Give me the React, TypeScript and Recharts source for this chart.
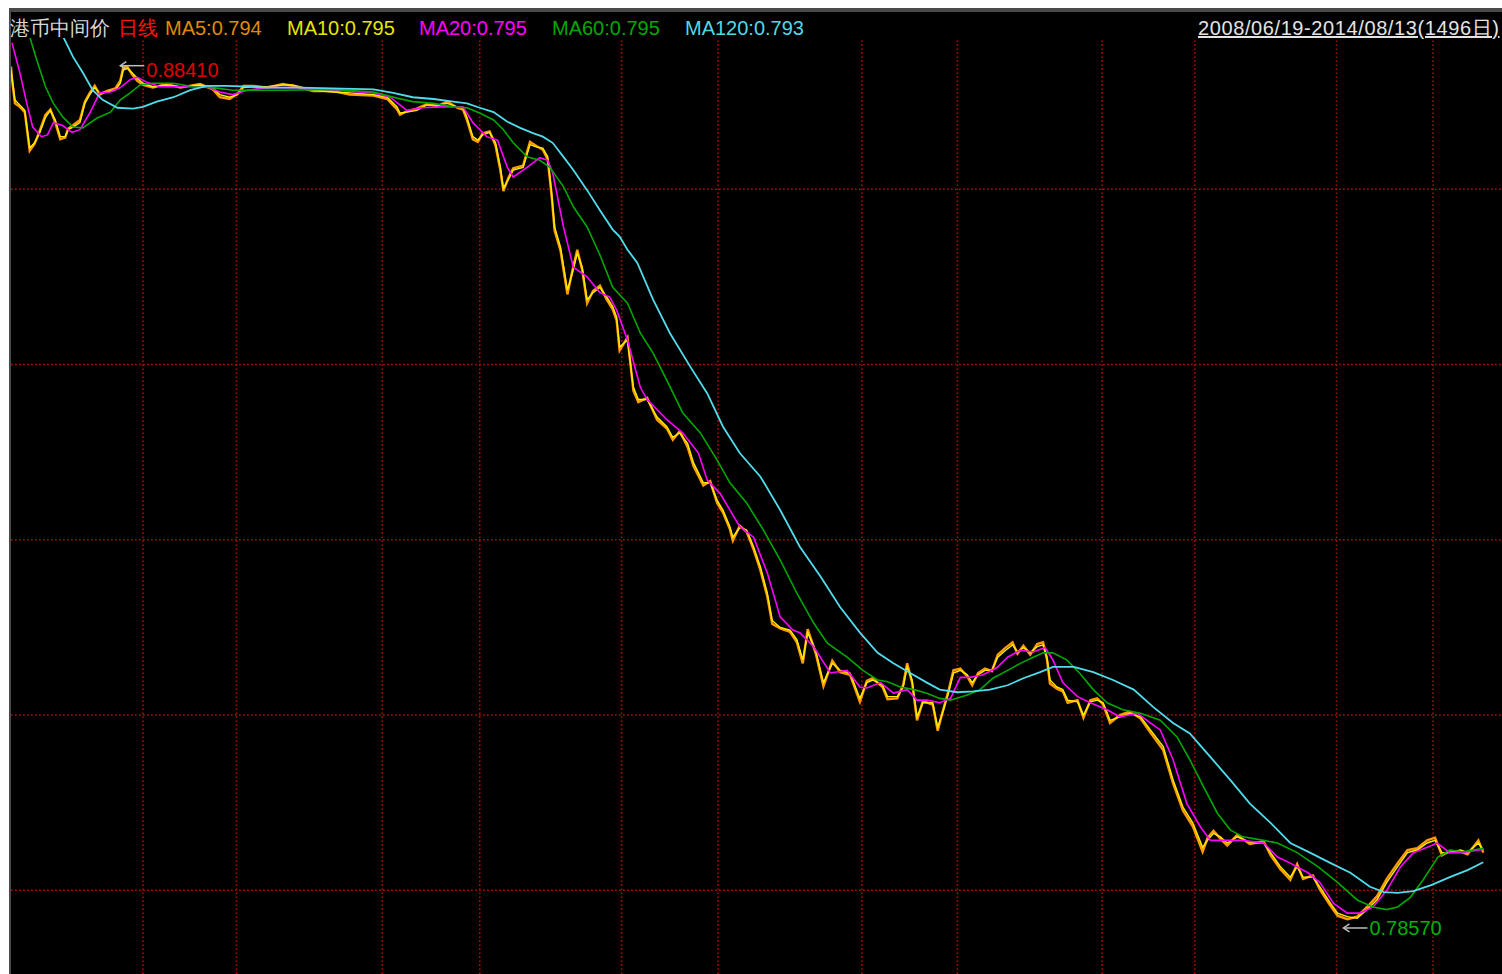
import React from "react";
import { LineChart, Line, XAxis, YAxis, ReferenceLine, ReferenceDot } from "recharts";

// day index (0 = 2008/06/19, 1495 = 2014/08/13), value
const ma5: [number, number][] = [
  [0,0.8840],[1,0.8826],[4,0.8798],[9,0.8794],[14,0.8788],[19,0.8744],[24,0.8752],[29,0.8766],[35,0.8785],[40,0.8791],
  [45,0.8776],[50,0.8757],[55,0.8759],[58,0.8769],[63,0.8773],[70,0.8779],[75,0.8800],[80,0.8810],[85,0.8818],[90,0.8808],
  [97,0.8812],[106,0.8815],[111,0.8824],[114,0.8839],[118,0.8840],[123,0.8831],[128,0.8824],[134,0.8819],[144,0.8816],[158,0.8820],
  [172,0.8816],[192,0.8820],[205,0.8814],[212,0.8805],[222,0.8803],[230,0.8809],[236,0.8818],[246,0.8818],[260,0.8816],[276,0.8820],
  [286,0.8818],[307,0.8812],[327,0.8812],[344,0.8808],[368,0.8807],[382,0.8803],[392,0.8791],[395,0.8785],[402,0.8789],[412,0.8792],
  [422,0.8797],[433,0.8795],[443,0.8800],[453,0.8793],[459,0.8791],[463,0.8779],[469,0.8757],[474,0.8754],[479,0.8764],[486,0.8766],
  [492,0.8750],[497,0.8721],[500,0.8698],[505,0.8713],[510,0.8724],[520,0.8727],[527,0.8754],[534,0.8749],[540,0.8745],[545,0.8734],
  [549,0.8692],[552,0.8653],[558,0.8630],[565,0.8580],[570,0.8607],[575,0.8631],[580,0.8608],[585,0.8570],[591,0.8584],[598,0.8590],
  [605,0.8574],[611,0.8563],[615,0.8550],[618,0.8516],[626,0.8531],[632,0.8470],[637,0.8457],[646,0.8462],[656,0.8437],[666,0.8427],
  [672,0.8414],[679,0.8424],[687,0.8406],[693,0.8384],[703,0.8362],[710,0.8367],[717,0.8342],[723,0.8331],[730,0.8312],[733,0.8299],
  [740,0.8316],[747,0.8309],[754,0.8289],[761,0.8265],[768,0.8235],[773,0.8204],[781,0.8199],[791,0.8195],[798,0.8183],[804,0.8159],
  [809,0.8198],[817,0.8171],[825,0.8133],[834,0.8162],[842,0.8149],[852,0.8146],[862,0.8115],[869,0.8139],[875,0.8142],[885,0.8132],
  [890,0.8118],[900,0.8119],[906,0.8135],[910,0.8159],[915,0.8137],[920,0.8094],[926,0.8116],[936,0.8112],[941,0.8082],[947,0.8108],
  [952,0.8128],[957,0.8151],[964,0.8153],[971,0.8144],[976,0.8134],[982,0.8148],[989,0.8153],[996,0.8150],[1002,0.8169],[1010,0.8177],
  [1017,0.8183],[1022,0.8170],[1028,0.8179],[1035,0.8169],[1042,0.8181],[1048,0.8183],[1052,0.8163],[1055,0.8136],[1062,0.8130],[1068,0.8127],
  [1073,0.8114],[1083,0.8117],[1089,0.8097],[1096,0.8117],[1103,0.8119],[1109,0.8112],[1116,0.8091],[1126,0.8100],[1136,0.8104],[1147,0.8096],
  [1157,0.8080],[1170,0.8060],[1180,0.8022],[1190,0.7991],[1200,0.7973],[1210,0.7944],[1215,0.7960],[1221,0.7968],[1228,0.7959],[1235,0.7951],
  [1245,0.7963],[1258,0.7953],[1272,0.7956],[1279,0.7940],[1289,0.7924],[1299,0.7912],[1306,0.7930],[1312,0.7913],[1322,0.7917],[1329,0.7901],
  [1340,0.7882],[1347,0.7871],[1357,0.7867],[1367,0.7870],[1377,0.7881],[1387,0.7893],[1397,0.7913],[1408,0.7931],[1418,0.7946],[1428,0.7948],
  [1438,0.7957],[1446,0.7960],[1453,0.7940],[1461,0.7945],[1472,0.7944],[1479,0.7941],[1490,0.7957],[1495,0.7943],
];

const ma10: [number, number][] = [
  [0,0.8836],[1,0.8828],[4,0.8802],[9,0.8796],[14,0.8790],[19,0.8747],[24,0.8753],[29,0.8764],[35,0.8782],[40,0.8790],
  [45,0.8779],[50,0.8760],[55,0.8760],[58,0.8768],[63,0.8771],[70,0.8776],[75,0.8798],[80,0.8808],[85,0.8816],[90,0.8810],
  [97,0.8811],[106,0.8813],[111,0.8821],[114,0.8836],[118,0.8838],[123,0.8833],[128,0.8827],[134,0.8821],[144,0.8817],[158,0.8819],
  [172,0.8817],[192,0.8819],[205,0.8816],[212,0.8808],[222,0.8805],[230,0.8808],[236,0.8816],[246,0.8817],[260,0.8817],[276,0.8819],
  [286,0.8819],[307,0.8813],[327,0.8811],[344,0.8810],[368,0.8808],[382,0.8805],[392,0.8794],[395,0.8787],[402,0.8788],[412,0.8790],
  [422,0.8796],[433,0.8796],[443,0.8798],[453,0.8794],[459,0.8793],[463,0.8782],[469,0.8760],[474,0.8756],[479,0.8762],[486,0.8765],
  [492,0.8753],[497,0.8725],[500,0.8701],[505,0.8711],[510,0.8722],[520,0.8725],[527,0.8751],[534,0.8748],[540,0.8747],[545,0.8737],
  [549,0.8696],[552,0.8657],[558,0.8634],[565,0.8585],[570,0.8604],[575,0.8627],[580,0.8611],[585,0.8574],[591,0.8582],[598,0.8588],
  [605,0.8577],[611,0.8566],[615,0.8554],[618,0.8520],[626,0.8528],[632,0.8474],[637,0.8460],[646,0.8460],[656,0.8440],[666,0.8429],
  [672,0.8417],[679,0.8422],[687,0.8410],[693,0.8388],[703,0.8365],[710,0.8365],[717,0.8345],[723,0.8334],[730,0.8315],[733,0.8303],
  [740,0.8314],[747,0.8311],[754,0.8292],[761,0.8269],[768,0.8239],[773,0.8208],[781,0.8200],[791,0.8197],[798,0.8186],[804,0.8163],
  [809,0.8194],[817,0.8174],[825,0.8137],[834,0.8159],[842,0.8151],[852,0.8148],[862,0.8119],[869,0.8137],[875,0.8140],[885,0.8134],
  [890,0.8121],[900,0.8121],[906,0.8132],[910,0.8155],[915,0.8140],[920,0.8098],[926,0.8114],[936,0.8114],[941,0.8086],[947,0.8106],
  [952,0.8125],[957,0.8148],[964,0.8151],[971,0.8146],[976,0.8137],[982,0.8146],[989,0.8151],[996,0.8151],[1002,0.8166],[1010,0.8174],
  [1017,0.8180],[1022,0.8172],[1028,0.8177],[1035,0.8171],[1042,0.8178],[1048,0.8180],[1052,0.8166],[1055,0.8140],[1062,0.8132],[1068,0.8129],
  [1073,0.8117],[1083,0.8115],[1089,0.8100],[1096,0.8115],[1103,0.8117],[1109,0.8114],[1116,0.8094],[1126,0.8098],[1136,0.8102],[1147,0.8098],
  [1157,0.8083],[1170,0.8064],[1180,0.8026],[1190,0.7995],[1200,0.7977],[1210,0.7949],[1215,0.7957],[1221,0.7965],[1228,0.7961],[1235,0.7954],
  [1245,0.7961],[1258,0.7955],[1272,0.7954],[1279,0.7943],[1289,0.7927],[1299,0.7915],[1306,0.7927],[1312,0.7915],[1322,0.7915],[1329,0.7904],
  [1340,0.7885],[1347,0.7874],[1357,0.7870],[1367,0.7868],[1377,0.7878],[1387,0.7889],[1397,0.7909],[1408,0.7927],[1418,0.7943],[1428,0.7946],
  [1438,0.7954],[1446,0.7957],[1453,0.7943],[1461,0.7943],[1472,0.7946],[1479,0.7943],[1490,0.7954],[1495,0.7946],
];

const ma20: [number, number][] = [
  [1,0.8867],[9,0.8833],[16,0.8798],[22,0.8771],[31,0.8760],[37,0.8762],[43,0.8776],[52,0.8773],[62,0.8765],[70,0.8768],
  [80,0.8787],[90,0.8810],[101,0.8811],[111,0.8816],[121,0.8825],[128,0.8828],[138,0.8822],[151,0.8817],[172,0.8817],[199,0.8817],
  [212,0.8811],[225,0.8808],[240,0.8813],[260,0.8816],[294,0.8816],[368,0.8810],[385,0.8805],[402,0.8790],[418,0.8793],[436,0.8794],
  [459,0.8794],[469,0.8776],[483,0.8760],[494,0.8756],[504,0.8725],[510,0.8714],[524,0.8725],[537,0.8736],[545,0.8733],[550,0.8719],
  [561,0.8657],[571,0.8611],[585,0.8600],[598,0.8582],[608,0.8577],[615,0.8562],[626,0.8528],[639,0.8474],[646,0.8460],[666,0.8437],
  [682,0.8422],[698,0.8399],[707,0.8368],[720,0.8353],[740,0.8315],[754,0.8303],[768,0.8262],[781,0.8212],[794,0.8197],[801,0.8194],
  [815,0.8178],[832,0.8148],[849,0.8151],[862,0.8132],[869,0.8131],[883,0.8137],[896,0.8125],[910,0.8129],[920,0.8117],[930,0.8117],
  [943,0.8114],[954,0.8119],[964,0.8143],[974,0.8143],[987,0.8146],[1001,0.8154],[1012,0.8166],[1025,0.8174],[1038,0.8172],[1050,0.8177],
  [1058,0.8163],[1068,0.8137],[1083,0.8121],[1096,0.8114],[1113,0.8106],[1126,0.8098],[1144,0.8102],[1157,0.8091],[1167,0.8083],[1180,0.8049],
  [1194,0.7999],[1208,0.7972],[1218,0.7957],[1235,0.7957],[1251,0.7957],[1272,0.7954],[1286,0.7938],[1299,0.7931],[1317,0.7920],[1329,0.7909],
  [1343,0.7885],[1357,0.7874],[1370,0.7874],[1383,0.7881],[1397,0.7900],[1411,0.7927],[1424,0.7943],[1438,0.7949],[1448,0.7954],[1461,0.7943],
  [1474,0.7943],[1495,0.7947],
];

const ma60: [number, number][] = [
  [14,0.8905],[19,0.8874],[26,0.8848],[35,0.8817],[43,0.8798],[53,0.8782],[63,0.8771],[73,0.8770],[87,0.8781],[101,0.8788],
  [111,0.8802],[121,0.8810],[131,0.8819],[144,0.8821],[165,0.8821],[185,0.8817],[205,0.8816],[225,0.8813],[246,0.8813],[276,0.8813],
  [327,0.8814],[368,0.8811],[392,0.8804],[408,0.8800],[429,0.8798],[449,0.8794],[463,0.8793],[476,0.8787],[490,0.8779],[500,0.8768],
  [510,0.8753],[524,0.8737],[537,0.8733],[547,0.8725],[561,0.8703],[571,0.8680],[585,0.8657],[598,0.8625],[611,0.8588],[626,0.8570],
  [639,0.8536],[652,0.8513],[666,0.8482],[682,0.8445],[700,0.8422],[717,0.8391],[730,0.8365],[747,0.8342],[764,0.8311],[781,0.8277],
  [798,0.8239],[815,0.8205],[829,0.8182],[849,0.8166],[865,0.8151],[880,0.8140],[890,0.8138],[903,0.8132],[917,0.8129],[930,0.8125],
  [943,0.8119],[954,0.8117],[971,0.8123],[984,0.8129],[997,0.8142],[1012,0.8151],[1025,0.8159],[1038,0.8166],[1048,0.8171],[1058,0.8171],
  [1072,0.8163],[1085,0.8148],[1099,0.8129],[1113,0.8114],[1129,0.8106],[1147,0.8102],[1167,0.8094],[1184,0.8075],[1197,0.8049],[1211,0.8018],
  [1225,0.7988],[1238,0.7969],[1251,0.7961],[1272,0.7957],[1286,0.7954],[1306,0.7943],[1327,0.7927],[1347,0.7909],[1367,0.7889],[1383,0.7881],
  [1397,0.7878],[1408,0.7881],[1421,0.7892],[1434,0.7912],[1449,0.7938],[1461,0.7946],[1474,0.7944],[1495,0.7948],
];

const ma120: [number, number][] = [
  [45,0.8895],[53,0.8874],[63,0.8851],[73,0.8833],[83,0.8813],[93,0.8802],[108,0.8793],[124,0.8792],[134,0.8794],[148,0.8800],
  [165,0.8805],[182,0.8813],[199,0.8818],[219,0.8818],[240,0.8817],[260,0.8816],[294,0.8816],[368,0.8814],[388,0.8810],[408,0.8805],
  [429,0.8803],[449,0.8800],[463,0.8798],[476,0.8793],[490,0.8788],[504,0.8777],[517,0.8770],[530,0.8764],[540,0.8760],[550,0.8753],
  [561,0.8737],[571,0.8722],[585,0.8699],[598,0.8676],[611,0.8654],[618,0.8646],[626,0.8631],[636,0.8616],[652,0.8574],[669,0.8536],
  [690,0.8497],[707,0.8467],[723,0.8429],[740,0.8399],[761,0.8372],[781,0.8334],[801,0.8292],[822,0.8258],[842,0.8223],[862,0.8194],
  [880,0.8171],[896,0.8159],[913,0.8148],[930,0.8137],[943,0.8129],[961,0.8126],[977,0.8127],[994,0.8129],[1012,0.8134],[1028,0.8142],
  [1045,0.8149],[1058,0.8155],[1079,0.8155],[1099,0.8149],[1119,0.8140],[1140,0.8129],[1160,0.8109],[1180,0.8091],[1197,0.8079],[1218,0.8052],
  [1238,0.8026],[1258,0.7999],[1279,0.7977],[1299,0.7954],[1319,0.7943],[1340,0.7931],[1360,0.7920],[1380,0.7904],[1394,0.7898],[1408,0.7897],
  [1424,0.7899],[1442,0.7906],[1461,0.7915],[1479,0.7923],[1495,0.7932],
];

const gridDays = [134, 229, 377, 476, 620, 718, 864, 961, 1108, 1202, 1346, 1444];
const gridValues = [0.87, 0.85, 0.83, 0.81, 0.79];

const highPoint = { day: 111, value: 0.8841, label: "0.88410" };
const lowPoint = { day: 1353, value: 0.7857, label: "0.78570" };

const legend = [
  { text: "港币中间价", color: "#d8d8d8", x: 10 },
  { text: "日线", color: "#ff1010", x: 118 },
  { text: "MA5:0.794", color: "#e08a00", x: 165 },
  { text: "MA10:0.795", color: "#e6e600", x: 287 },
  { text: "MA20:0.795", color: "#ff00ff", x: 419 },
  { text: "MA60:0.795", color: "#00a800", x: 552 },
  { text: "MA120:0.793", color: "#50d8e8", x: 685 },
];

const toRows = (pts: [number, number][]) => pts.map(([d, v]) => ({ d, v }));

const FONT = "'Liberation Sans', Arial, sans-serif";
const GRID = "#c00000";

function ExtremeMark(props: any) {
  const { cx, cy, label, color, dy } = props;
  if (cx == null || cy == null) return null;
  return (
    <g>
      <line x1={cx} y1={cy} x2={cx + 24} y2={cy} stroke="#bdbdbd" strokeWidth={1.5} />
      <polyline
        points={`${cx + 6},${cy - 4} ${cx},${cy} ${cx + 6},${cy + 4}`}
        fill="none"
        stroke="#bdbdbd"
        strokeWidth={1.5}
      />
      <text
        x={cx + 26}
        y={cy + dy}
        fill={color}
        fontFamily={FONT}
        fontSize={20}
        dominantBaseline="central"
      >
        {label}
      </text>
    </g>
  );
}

export default function App() {
  return (
    <div
      style={{
        position: "absolute",
        left: 0,
        top: 0,
        width: 1502,
        height: 974,
        overflow: "hidden",
        background: "#fff",
      }}
    >
      <div
        style={{
          position: "absolute",
          left: 9,
          top: 8,
          width: 1493,
          height: 966,
          boxSizing: "border-box",
          background: "#000",
          borderLeft: "2px solid #4a4a4a",
          borderTop: "4px solid #4a4a4a",
        }}
      />
      <div style={{ position: "absolute", left: 0, top: 0 }}>
        <LineChart
          width={1502}
          height={974}
          margin={{ top: 38, right: 0, bottom: 0, left: 11 }}
        >
          <XAxis type="number" dataKey="d" domain={[0, 1514]} allowDataOverflow hide />
          <YAxis type="number" dataKey="v" domain={[0.78045, 0.88726]} allowDataOverflow hide />
          {gridValues.map((v) => (
            <ReferenceLine key={"h" + v} y={v} stroke={GRID} strokeWidth={1.6} strokeDasharray="1.6 2.4" />
          ))}
          {gridDays.map((d) => (
            <ReferenceLine key={"v" + d} x={d} stroke={GRID} strokeWidth={1.6} strokeDasharray="1.6 2.4" />
          ))}
          <Line data={toRows(ma5)} dataKey="v" type="linear" stroke="#ff9a00" strokeWidth={2.4} dot={false} isAnimationActive={false} />
          <Line data={toRows(ma10)} dataKey="v" type="linear" stroke="#ffee00" strokeWidth={1.4} dot={false} isAnimationActive={false} />
          <Line data={toRows(ma20)} dataKey="v" type="linear" stroke="#ff00ff" strokeWidth={1.6} dot={false} isAnimationActive={false} />
          <Line data={toRows(ma60)} dataKey="v" type="linear" stroke="#00a800" strokeWidth={1.6} dot={false} isAnimationActive={false} />
          <Line data={toRows(ma120)} dataKey="v" type="linear" stroke="#50dcec" strokeWidth={1.8} dot={false} isAnimationActive={false} />
          <ReferenceDot
            x={highPoint.day}
            y={highPoint.value}
            r={0}
            shape={(p: any) => <ExtremeMark {...p} label={highPoint.label} color="#e00000" dy={4} />}
          />
          <ReferenceDot
            x={lowPoint.day}
            y={lowPoint.value}
            r={0}
            shape={(p: any) => <ExtremeMark {...p} label={lowPoint.label} color="#00b000" dy={0} />}
          />
        </LineChart>
      </div>
      <div
        style={{
          position: "absolute",
          left: 0,
          top: 18,
          width: 1502,
          height: 22,
          fontFamily: FONT,
          fontSize: 20,
          lineHeight: "20px",
          whiteSpace: "nowrap",
        }}
      >
        {legend.map((l) => (
          <span key={l.text} style={{ position: "absolute", left: l.x, color: l.color }}>
            {l.text}
          </span>
        ))}
        <span
          style={{
            position: "absolute",
            left: 1198,
            color: "#e4e4e4",
            textDecoration: "underline",
            letterSpacing: 0.6,
          }}
        >
          2008/06/19-2014/08/13(1496日)
        </span>
      </div>
    </div>
  );
}
